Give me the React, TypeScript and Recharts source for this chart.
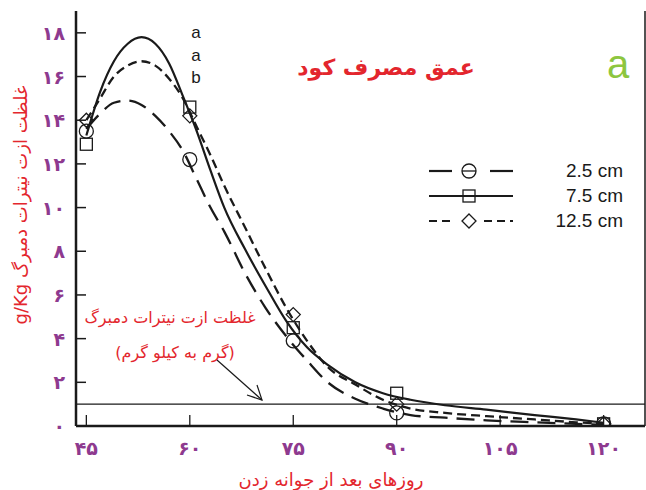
import { ComposedChart, Line, Scatter, XAxis, YAxis, ReferenceLine, Legend } from 'recharts';

// measured points (days after emergence)
const sampleDays = [45, 60, 75, 90, 120];
const depth25 = [13.5, 12.2, 3.9, 0.6, 0.1];
const depth75 = [12.9, 14.6, 4.5, 1.5, 0.1];
const depth125 = [14.0, 14.2, 5.1, 1.0, 0.1];

// fitted curves
const curveDays = [45, 47, 49, 51, 53, 55, 57, 59, 61, 63, 65, 68, 71, 74, 77, 80, 84, 88, 92, 97, 103, 110, 116, 120];
const fit25 = [13.6, 14.3, 14.8, 14.9, 14.7, 14.2, 13.5, 12.6, 11.3, 10.0, 8.9, 7.0, 5.4, 4.1, 3.0, 2.0, 1.25, 0.8, 0.5, 0.38, 0.26, 0.17, 0.1, 0.05];
const fit75 = [13.3, 15.3, 16.7, 17.5, 17.8, 17.5, 16.6, 15.1, 13.5, 11.7, 10.0, 8.1, 6.4, 4.8, 3.6, 2.8, 2.0, 1.5, 1.2, 0.95, 0.75, 0.5, 0.3, 0.15];
const fit125 = [14.0, 15.0, 16.0, 16.5, 16.7, 16.5, 15.9, 15.0, 13.7, 12.4, 11.0, 9.1, 7.2, 5.4, 3.9, 2.7, 1.9, 1.2, 0.8, 0.6, 0.45, 0.3, 0.17, 0.1];

const xTicks = [45, 60, 75, 90, 105, 120];
const yTicks = [0, 2, 4, 6, 8, 10, 12, 14, 16, 18];
const legendLabels = ['2.5 cm', '7.5 cm', '12.5 cm'];
const groupLetters = ['a', 'a', 'b'];

const PURPLE = '#8E3A8F';
const RED = '#E3262D';
const INK = '#1a1a1a';
const FA = "'DejaVu Sans', sans-serif";
const LAT = "'Liberation Sans', Arial, sans-serif";

const toFa = (n: number) => String(n).replace(/\d/g, (d) => '۰۱۲۳۴۵۶۷۸۹'[+d]);

const toRows = (xs: number[], ys: number[]) => xs.map((day, i) => ({ day, v: ys[i] }));

const CircleMark = ({ cx, cy }: any) => <circle cx={cx} cy={cy} r={7} fill="none" stroke={INK} strokeWidth={1.3} />;
const SquareMark = ({ cx, cy }: any) => <rect x={cx - 6} y={cy - 6} width={12} height={12} fill="none" stroke={INK} strokeWidth={1.3} />;
const DiamondMark = ({ cx, cy }: any) => (
  <polygon points={`${cx},${cy - 7} ${cx + 7},${cy} ${cx},${cy + 7} ${cx - 7},${cy}`} fill="none" stroke={INK} strokeWidth={1.3} />
);

const LeftTick = ({ x, y, payload }: any) => (
  <g>
    <line x1={x} x2={x + 10} y1={y} y2={y} stroke={INK} strokeWidth={1.5} />
    <text x={x - 11} y={y} dy={7} textAnchor="end" fill={PURPLE} fontSize={19} fontWeight="bold" letterSpacing={3} fontFamily={FA}>
      {toFa(payload.value)}
    </text>
  </g>
);

const BottomTick = ({ x, y, payload }: any) => (
  <g>
    <line x1={x} x2={x} y1={y} y2={y - 11} stroke={INK} strokeWidth={1.3} />
    <text x={x} y={y + 29} textAnchor="middle" fill={PURPLE} fontSize={19} fontWeight="bold" letterSpacing={3} fontFamily={FA}>
      {toFa(payload.value)}
    </text>
  </g>
);

const TopTick = ({ x, y }: any) => <line x1={x} x2={x} y1={y} y2={y + 8} stroke={INK} strokeWidth={1.2} />;
const RightTick = ({ x, y }: any) => <line x1={x} x2={x - 6} y1={y} y2={y} stroke={INK} strokeWidth={1.2} />;

function LegendBox() {
  const markers = [
    <g key="c">
      <line x1={0} x2={23} y1={10} y2={10} stroke={INK} strokeWidth={2.2} />
      <line x1={61} x2={84} y1={10} y2={10} stroke={INK} strokeWidth={2.2} />
      <circle cx={40} cy={10} r={7} fill="none" stroke={INK} strokeWidth={1.3} />
      <line x1={33} x2={47} y1={10} y2={10} stroke={INK} strokeWidth={1.3} />
    </g>,
    <g key="s">
      <line x1={0} x2={84} y1={10} y2={10} stroke={INK} strokeWidth={2} />
      <rect x={34} y={4} width={12} height={12} fill="none" stroke={INK} strokeWidth={1.3} />
    </g>,
    <g key="d">
      <line x1={0} x2={26} y1={10} y2={10} stroke={INK} strokeWidth={2.2} strokeDasharray="8 5" />
      <line x1={55} x2={84} y1={10} y2={10} stroke={INK} strokeWidth={2.2} strokeDasharray="8 5" />
      <polygon points="40,3 47,10 40,17 33,10" fill="none" stroke={INK} strokeWidth={1.3} />
    </g>,
  ];
  return (
    <div style={{ width: 194 }}>
      {legendLabels.map((label, i) => (
        <div key={label} style={{ height: 25, display: 'flex', alignItems: 'center', justifyContent: 'space-between' }}>
          <svg width={86} height={20}>{markers[i]}</svg>
          <span style={{ fontFamily: LAT, fontSize: 19, color: INK }}>{label}</span>
        </div>
      ))}
    </div>
  );
}

const abs = (left: number, top: number, extra: any = {}) => ({
  position: 'absolute' as const,
  left,
  top,
  transform: 'translate(-50%, -50%)',
  whiteSpace: 'nowrap' as const,
  ...extra,
});

export default function App() {
  return (
    <div style={{ position: 'absolute', left: 0, top: 0, width: 646, height: 490, background: '#fff' }}>
      <ComposedChart width={646} height={490} margin={{ top: 11, right: 1, left: 0, bottom: 0 }}>
        <XAxis
          dataKey="day"
          type="number"
          domain={[43.5, 126]}
          allowDataOverflow
          ticks={xTicks}
          interval={0}
          height={64}
          tickSize={0}
          tickMargin={0}
          tickLine={false}
          tick={<BottomTick />}
          axisLine={{ stroke: INK, strokeWidth: 2.5 }}
        />
        <XAxis
          xAxisId="top"
          orientation="top"
          dataKey="day"
          type="number"
          domain={[43.5, 126]}
          allowDataOverflow
          ticks={xTicks}
          interval={0}
          height={0}
          tickSize={0}
          tickMargin={0}
          tickLine={false}
          tick={<TopTick />}
          axisLine={{ stroke: INK, strokeWidth: 1.5 }}
        />
        <YAxis
          type="number"
          domain={[0, 19]}
          allowDataOverflow
          ticks={yTicks}
          interval={0}
          width={76}
          tickSize={0}
          tickMargin={0}
          tickLine={false}
          tick={<LeftTick />}
          axisLine={{ stroke: INK, strokeWidth: 2.5 }}
        />
        <YAxis
          yAxisId="right"
          orientation="right"
          type="number"
          domain={[0, 19]}
          allowDataOverflow
          ticks={yTicks}
          interval={0}
          width={0}
          tickSize={0}
          tickMargin={0}
          tickLine={false}
          tick={<RightTick />}
          axisLine={{ stroke: INK, strokeWidth: 1.5 }}
        />
        <ReferenceLine y={1} stroke={INK} strokeWidth={1.3} />
        <ReferenceLine x={126} stroke={INK} strokeWidth={1.5} ifOverflow="extendDomain" />
        <Line data={toRows(curveDays, fit25)} dataKey="v" type="monotone" stroke={INK} strokeWidth={2.3} strokeDasharray="18 9" dot={false} isAnimationActive={false} legendType="none" />
        <Line data={toRows(curveDays, fit75)} dataKey="v" type="monotone" stroke={INK} strokeWidth={2.2} dot={false} isAnimationActive={false} legendType="none" />
        <Line data={toRows(curveDays, fit125)} dataKey="v" type="monotone" stroke={INK} strokeWidth={2.3} strokeDasharray="9 5" dot={false} isAnimationActive={false} legendType="none" />
        <Scatter data={toRows(sampleDays, depth25)} dataKey="v" shape={<CircleMark />} isAnimationActive={false} legendType="none" />
        <Scatter data={toRows(sampleDays, depth75)} dataKey="v" shape={<SquareMark />} isAnimationActive={false} legendType="none" />
        <Scatter data={toRows(sampleDays, depth125)} dataKey="v" shape={<DiamondMark />} isAnimationActive={false} legendType="none" />
        <Legend
          layout="horizontal"
          verticalAlign="middle"
          align="center"
          content={() => <LegendBox />}
          wrapperStyle={{ position: 'absolute', left: 429, top: 158, width: 194 }}
        />
      </ComposedChart>

      {/* y axis title */}
      <div style={abs(20, 205, { transform: 'translate(-50%, -50%) rotate(-90deg)', direction: 'rtl', fontFamily: FA, fontSize: 18, color: RED })}>
        غلظت ازت نیترات دمبرگ g/Kg
      </div>
      {/* x axis title */}
      <div style={abs(331, 479, { direction: 'rtl', fontFamily: FA, fontSize: 18, color: RED })}>روزهای بعد از جوانه زدن</div>
      {/* panel title */}
      <div style={abs(386, 67, { direction: 'rtl', fontFamily: FA, fontSize: 22, fontWeight: 'bold', color: RED })}>عمق مصرف کود</div>
      <div style={abs(618, 64, { fontFamily: LAT, fontSize: 40, color: '#8DC63F' })}>a</div>
      {groupLetters.map((g, i) => (
        <div key={i} style={abs(196, 33 + i * 22.5, { fontFamily: LAT, fontSize: 17, color: INK })}>
          {g}
        </div>
      ))}
      {/* note with arrow */}
      <div style={abs(170, 317, { direction: 'rtl', fontFamily: FA, fontSize: 16, color: RED })}>غلظت ازت نیترات دمبرگ</div>
      <div style={abs(175, 352, { direction: 'rtl', fontFamily: FA, fontSize: 16, color: RED })}>(گرم به کیلو گرم)</div>
      <svg width={646} height={490} style={{ position: 'absolute', left: 0, top: 0, pointerEvents: 'none' }}>
        <line x1={217} y1={360} x2={262} y2={400} stroke={INK} strokeWidth={1.2} />
        <polyline points="247,395 262,400 257,385" fill="none" stroke={INK} strokeWidth={1.2} />
      </svg>
    </div>
  );
}
